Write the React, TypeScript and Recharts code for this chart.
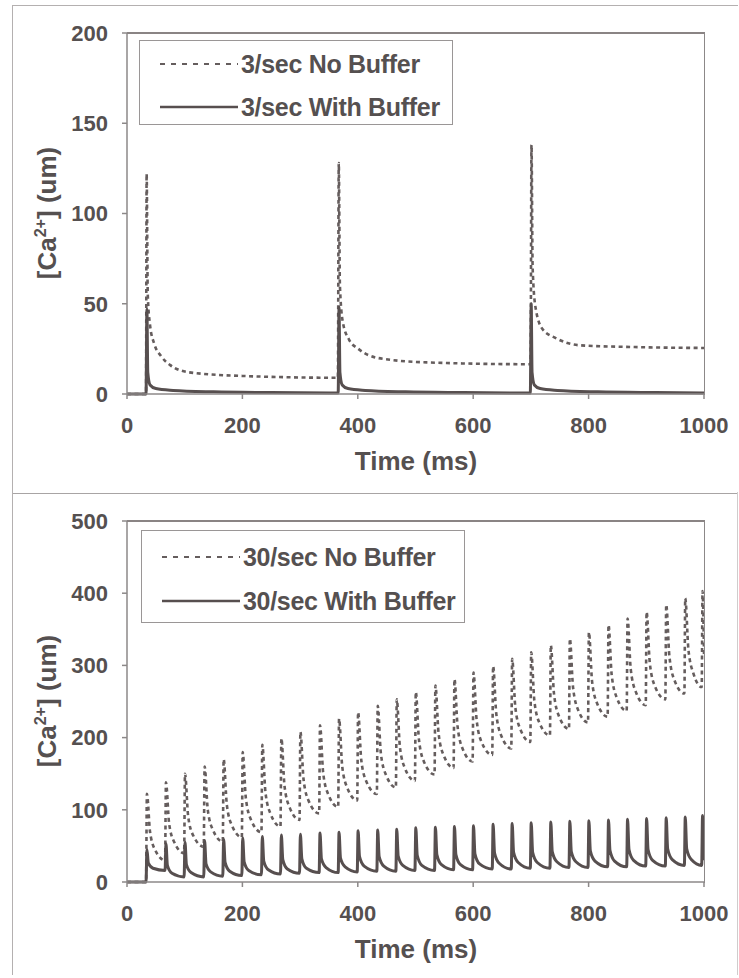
import React from 'react';
import { LineChart, Line, XAxis, YAxis } from 'recharts';

// ---- top panel: 3/sec stimulation ----
const xTicks = [0, 200, 400, 600, 800, 1000];
const yTicksTop = [0, 50, 100, 150, 200];
const yTicksBottom = [0, 100, 200, 300, 400, 500];

const noBuf3Time = [0, 33, 34, 36, 40, 47, 59, 75, 108, 200, 365.5, 367, 369, 374, 385, 401, 434, 520, 699.5, 701, 703, 708, 720, 743, 784, 880, 1000];
const noBuf3Val = [0, 0, 122, 55, 38, 28, 21, 16, 12, 10, 9, 128, 60, 40, 30, 25, 20, 17.5, 16.5, 138, 70, 48, 36, 31, 27, 26, 25.5];

const buf3Time = [0, 33, 34.5, 36, 40, 50, 80, 150, 250, 366, 367.5, 369, 373, 383, 413, 483, 583, 699, 700.5, 702, 706, 716, 746, 816, 916, 1000];
const buf3Val = [0, 0, 47, 12, 5, 3, 2, 1.2, 0.8, 0.5, 48, 12, 5, 3, 2, 1.2, 0.8, 0.5, 50, 12, 5, 3, 2, 1.2, 0.8, 0.6];

// ---- bottom panel: 30/sec stimulation ----
const spikeTimes30 = [33, 66, 99, 133, 166, 199, 233, 266, 299, 333, 366, 399, 433, 466, 499, 533, 566, 599, 633, 666, 699, 733, 766, 799, 833, 866, 899, 933, 966, 996];

const noBufPeak30 = [122, 138, 150, 160, 170, 180, 190, 199, 208, 217, 226, 235, 244, 253, 263, 272, 281, 290, 299, 309, 318, 328, 337, 346, 356, 365, 374, 384, 393, 403];
const noBufMid30 = [69, 81, 91, 100, 107, 116, 124, 133, 142, 151, 160, 169, 178, 187, 197, 206, 215, 224, 233, 242, 251, 261, 270, 278, 287, 295, 304, 313, 322];
const noBufLate30 = [44, 55, 64, 72, 78, 86, 94, 103, 112, 121, 130, 139, 148, 157, 166, 175, 184, 193, 202, 211, 220, 229, 238, 247, 255, 263, 271, 279, 288];
const noBufTrough30 = [30, 40, 49, 56, 62, 69, 77, 86, 95, 104, 113, 122, 131, 140, 149, 158, 167, 176, 185, 194, 203, 212, 221, 229, 237, 245, 253, 261, 270, 315];

const bufPeak30 = [45, 53, 55, 57, 59, 61, 63, 65, 66, 68, 69, 71, 72, 73, 75, 76, 77, 78, 80, 81, 82, 83, 84, 85, 86, 87, 88, 89, 90, 92];
const bufMid30 = [26, 23, 24, 25, 27, 28, 29, 31, 32, 32, 33, 35, 35, 36, 37, 38, 38, 39, 40, 41, 41, 42, 42, 43, 44, 45, 45, 46, 46];
const bufLate30 = [19, 12, 13, 14, 15, 16, 17, 18, 19, 20, 21, 22, 22, 23, 23, 24, 24, 25, 26, 27, 27, 28, 28, 29, 29, 30, 30, 31, 31];
const bufTrough30 = [16, 7, 7, 8, 9, 10, 11, 12, 13, 13, 14, 15, 15, 16, 16, 17, 17, 18, 18, 19, 19, 20, 20, 21, 21, 22, 22, 23, 23, 30];

const zip = (ts: number[], vs: number[]) => ts.map((t, i) => ({ t, v: vs[i] }));

// spike train: value before spike = previous trough, then peak, then two decay points
function buildTrain(peaks: number[], mids: number[], lates: number[], troughs: number[], offs: number[]) {
  const pts = [{ t: 0, v: 0 }];
  spikeTimes30.forEach((t0, i) => {
    const next = i + 1 < spikeTimes30.length ? spikeTimes30[i + 1] : 1000;
    pts.push({ t: t0, v: i === 0 ? 0 : troughs[i - 1] });
    pts.push({ t: t0 + offs[0], v: peaks[i] });
    if (mids[i] != null && t0 + offs[1] < next) pts.push({ t: t0 + offs[1], v: mids[i] });
    if (lates[i] != null && t0 + offs[2] < next) pts.push({ t: t0 + offs[2], v: lates[i] });
  });
  pts.push({ t: 1000, v: troughs[troughs.length - 1] });
  return pts;
}

const noBuf3 = zip(noBuf3Time, noBuf3Val);
const buf3 = zip(buf3Time, buf3Val);
const noBuf30 = buildTrain(noBufPeak30, noBufMid30, noBufLate30, noBufTrough30, [1.5, 7, 16]);
const buf30 = buildTrain(bufPeak30, bufMid30, bufLate30, bufTrough30, [1.5, 4, 12]);

const FONT = '"Liberation Sans", Arial, sans-serif';
const TEXT = '#555050';
const DASH_COLOR = '#655d5d';
const SOLID_COLOR = '#574f4f';
const AXIS = '#8c8888';
const DASH = '4 3.5';

// plot area inside each 739x490 panel
const PLOT = { left: 127, top: 33, right: 704, bottom: 394 };

type LegendBox = { left: number; top: number; width: number; height: number; rowTop: number; rowGap: number };

const SeriesLegend = ({ box, items }: { box: LegendBox; items: { name: string; color: string; width: number; dash?: string }[] }) => (
  <div style={{ position: 'absolute', left: box.left, top: box.top, width: box.width, height: box.height, boxSizing: 'border-box', border: '1.5px solid #9a9696', background: '#fff' }}>
    {items.map((it, i) => (
      <div key={it.name} style={{ position: 'absolute', left: 19, top: box.rowTop + i * box.rowGap - 15, height: 30, display: 'flex', alignItems: 'center', whiteSpace: 'nowrap' }}>
        <svg width={80} height={10}>
          <line x1={1} y1={5} x2={79} y2={5} stroke={it.color} strokeWidth={it.width} strokeDasharray={it.dash ? '5 6' : undefined} />
        </svg>
        <span style={{ marginLeft: 2, fontFamily: FONT, fontWeight: 700, fontSize: 25, color: TEXT, letterSpacing: -0.3 }}>{it.name}</span>
      </div>
    ))}
  </div>
);

type PanelProps = {
  top: number;
  yMax: number;
  yTicks: number[];
  dashData: { t: number; v: number }[];
  solidData: { t: number; v: number }[];
  dashName: string;
  solidName: string;
  legend: LegendBox;
};

const Panel = ({ top, yMax, yTicks, dashData, solidData, dashName, solidName, legend }: PanelProps) => {
  const tick = { fill: TEXT, fontSize: 22, fontWeight: 700, fontFamily: FONT };
  return (
    <div style={{ position: 'absolute', left: 0, top, width: 739, height: 490 }}>
      <LineChart width={739} height={490} margin={{ top: PLOT.top, right: 739 - PLOT.right, bottom: 0, left: PLOT.left - 60 }}>
        <XAxis dataKey="t" type="number" domain={[0, 1000]} ticks={xTicks} allowDataOverflow
          height={490 - PLOT.bottom} tickSize={5} tickMargin={18} stroke={AXIS} strokeWidth={1.5} tick={tick} />
        <YAxis type="number" domain={[0, yMax]} ticks={yTicks} width={60} tickSize={5} tickMargin={14}
          stroke={AXIS} strokeWidth={1.5} tick={tick} />
        <Line data={dashData} dataKey="v" name={dashName} type="monotone" stroke={DASH_COLOR}
          strokeWidth={2.6} strokeDasharray={DASH} dot={false} isAnimationActive={false} />
        <Line data={solidData} dataKey="v" name={solidName} type="monotone" stroke={SOLID_COLOR}
          strokeWidth={3} dot={false} isAnimationActive={false} />
      </LineChart>
      {/* top and right edges of the plot frame */}
      <div style={{ position: 'absolute', left: PLOT.left, top: PLOT.top - 1, width: PLOT.right - PLOT.left, height: PLOT.bottom - PLOT.top, borderTop: '2px solid #8a8484', borderRight: '1.5px solid #8c8888', pointerEvents: 'none' }} />
      <SeriesLegend box={legend} items={[
        { name: dashName, color: DASH_COLOR, width: 2.2, dash: DASH },
        { name: solidName, color: SOLID_COLOR, width: 2.6 },
      ]} />
      <div style={{ position: 'absolute', left: 47, top: 213, transform: 'translate(-50%, -50%) rotate(-90deg)', whiteSpace: 'nowrap', fontFamily: FONT, fontWeight: 700, fontSize: 26, color: TEXT }}>
        [Ca<sup style={{ fontSize: '0.62em' }}>2+</sup>] (um)
      </div>
      <div style={{ position: 'absolute', left: 416, top: 461, transform: 'translate(-50%, -50%)', whiteSpace: 'nowrap', fontFamily: FONT, fontWeight: 700, fontSize: 26, color: TEXT }}>
        Time (ms)
      </div>
    </div>
  );
};

export default function App() {
  return (
    <div style={{ position: 'absolute', left: 0, top: 0, width: 739, height: 978, background: '#fff', overflow: 'hidden' }}>
      <div style={{ position: 'absolute', left: 12, top: 5, width: 725, height: 487, borderTop: '1px solid #b4b0b0', borderLeft: '1px solid #b4b0b0', borderBottom: '1px solid #a8a4a4' }} />
      <div style={{ position: 'absolute', left: 12, top: 492, width: 724, height: 483, borderLeft: '1px solid #b4b0b0', borderRight: '1px solid #d0cccc' }} />
      <Panel top={0} yMax={200} yTicks={yTicksTop} dashData={noBuf3} solidData={buf3}
        dashName="3/sec No Buffer" solidName="3/sec With Buffer"
        legend={{ left: 139, top: 40, width: 314, height: 85, rowTop: 23, rowGap: 43 }} />
      <Panel top={488} yMax={500} yTicks={yTicksBottom} dashData={noBuf30} solidData={buf30}
        dashName="30/sec No Buffer" solidName="30/sec With Buffer"
        legend={{ left: 141, top: 42, width: 324, height: 93, rowTop: 26, rowGap: 44 }} />
    </div>
  );
}
